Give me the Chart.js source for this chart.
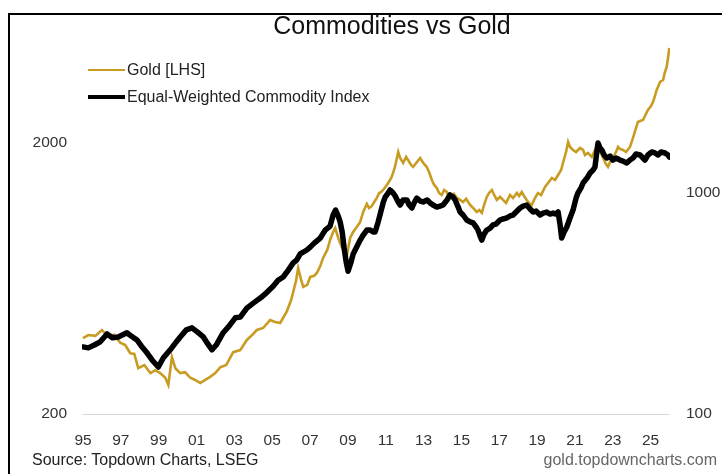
<!DOCTYPE html>
<html>
<head>
<meta charset="utf-8">
<title>Commodities vs Gold</title>
<script src="https://cdn.jsdelivr.net/npm/chart.js@4.4.1/dist/chart.umd.min.js"></script>
<style>
  html, body { margin:0; padding:0; background:#fff; overflow:hidden; }
  body { font-family:"Liberation Sans", Arial, sans-serif; }
  #wrap { position:relative; width:722px; height:474px; overflow:hidden; }
  #frame { position:absolute; left:8px; top:13px; width:800px; height:600px; border:2px solid #000; }
  #chart { position:absolute; left:0; top:0; }
  .txt { position:absolute; white-space:nowrap; }
  #title { left:192px; width:400px; top:10px; line-height:30px; font-size:25px; text-align:center; color:#111; }
  .swatch { position:absolute; left:88px; width:37px; }
  .leg { left:127px; font-size:16px; line-height:18px; color:#222; }
  .foot { font-size:16px; line-height:18px; top:451px; }
</style>
</head>
<body>
<div id="wrap">
  <div id="frame"></div>
  <canvas id="chart" width="722" height="474"></canvas>
  <div id="title" class="txt">Commodities vs Gold</div>
  <div class="swatch" style="top:69px;height:2px;background:#C89B22"></div>
  <div class="txt leg" style="top:61px">Gold [LHS]</div>
  <div class="swatch" style="top:95px;height:4px;background:#000"></div>
  <div class="txt leg" style="top:88px">Equal-Weighted Commodity Index</div>
  <div class="txt foot" style="left:32px;color:#222">Source: Topdown Charts, LSEG</div>
  <div class="txt foot" style="right:5px;color:#666">gold.topdowncharts.com</div>
</div>
<script>
// values (x in years, gold in USD/oz, index level)
const goldYears = [
  1995.00,1995.28,1995.65,1996.00,1996.28,1996.65,1996.97,1997.23,1997.50,1997.71,1997.92,
  1998.24,1998.56,1998.82,1999.08,1999.35,1999.51,1999.70,1999.88,2000.14,2000.40,2000.67,2000.93,
  2001.20,2001.46,2001.72,2001.99,2002.25,2002.57,2002.94,2003.31,2003.66,2003.94,2004.19,2004.52,
  2004.89,2005.16,2005.42,2005.78,2006.00,2006.11,2006.27,2006.37,2006.53,2006.64,2006.85,2007.01,
  2007.22,2007.36,2007.54,2007.69,2007.91,2008.06,2008.22,2008.33,2008.49,2008.59,2008.70,2008.86,
  2008.96,2009.12,2009.28,2009.47,2009.65,2009.81,2010.00,2010.12,2010.27,2010.39,2010.53,2010.65,
  2010.76,2010.86,2011.02,2011.13,2011.29,2011.39,2011.50,2011.66,2011.76,2011.92,2012.08,2012.18,
  2012.34,2012.45,2012.61,2012.82,2012.98,2013.17,2013.29,2013.44,2013.56,2013.70,2013.82,2013.96,
  2014.09,2014.23,2014.35,2014.49,2014.61,2014.76,2014.93,2015.09,2015.25,2015.46,2015.62,2015.81,
  2015.94,2016.08,2016.20,2016.34,2016.46,2016.61,2016.73,2016.87,2017.04,2017.20,2017.36,2017.57,
  2017.73,2017.93,2018.05,2018.19,2018.31,2018.45,2018.58,2018.72,2018.89,2019.05,2019.21,2019.42,
  2019.58,2019.78,2019.95,2020.11,2020.27,2020.37,2020.53,2020.64,2020.74,2020.90,2021.06,2021.27,
  2021.43,2021.53,2021.69,2021.89,2022.01,2022.15,2022.27,2022.42,2022.54,2022.64,2022.75,2022.86,
  2023.01,2023.17,2023.28,2023.38,2023.54,2023.70,2023.91,2024.07,2024.23,2024.33,2024.44,2024.60,
  2024.70,2024.86,2025.02,2025.13,2025.23,2025.32,2025.39,2025.50,2025.66,2025.76,2025.85,2025.92,
  2025.99
];
const goldPrice = [
  381,391,388,408,388,391,366,359,335,333,295,
  303,283,290,283,272,256,324,295,283,285,272,267,
  260,267,274,283,297,303,338,344,375,391,408,415,
  444,437,433,479,526,563,624,691,624,588,598,640,
  646,662,702,752,805,876,937,969,891,854,819,791,
  778,891,937,978,1021,1111,1189,1149,1169,1209,1251,1305,
  1316,1339,1385,1420,1482,1547,1642,1848,1757,1684,1772,1727,
  1656,1628,1684,1757,1684,1628,1560,1457,1397,1362,1305,1283,
  1339,1316,1251,1262,1294,1251,1230,1209,1241,1179,1149,1111,
  1130,1102,1179,1262,1305,1339,1283,1230,1262,1230,1199,1283,
  1251,1305,1272,1316,1272,1230,1199,1179,1251,1305,1283,1374,
  1420,1482,1457,1520,1587,1684,1848,2013,1929,1880,1848,1912,
  1880,1802,1833,1772,1848,1929,1880,1802,1727,1669,1628,1698,
  1757,1848,1929,1896,1880,1848,1929,2082,2266,2384,2404,2425,
  2509,2640,2731,2826,2973,3128,3209,3348,3405,3645,3803,4104,
  4468
];

const indexYears = [
  1995.00,1995.28,1995.60,1995.91,1996.27,1996.55,1996.86,1997.32,1997.55,1997.85,1998.08,
  1998.38,1998.66,1998.98,1999.24,1999.61,1999.88,2000.14,2000.46,2000.76,2001.04,2001.36,2001.57,
  2001.81,2002.04,2002.41,2002.73,2003.05,2003.31,2003.66,2004.00,2004.37,2004.68,2005.05,2005.32,
  2005.58,2005.85,2006.11,2006.30,2006.48,2006.83,2007.01,2007.22,2007.54,2007.80,2008.06,2008.22,
  2008.35,2008.49,2008.59,2008.70,2008.80,2008.91,2009.01,2009.17,2009.28,2009.49,2009.65,2009.81,
  2010.00,2010.18,2010.34,2010.44,2010.60,2010.71,2010.86,2010.97,2011.13,2011.23,2011.39,2011.50,
  2011.66,2011.76,2011.92,2012.12,2012.24,2012.38,2012.50,2012.64,2012.82,2012.98,2013.19,2013.35,
  2013.50,2013.70,2013.87,2014.03,2014.24,2014.40,2014.56,2014.67,2014.83,2014.93,2015.09,2015.28,
  2015.46,2015.62,2015.78,2015.88,2015.99,2016.08,2016.20,2016.34,2016.52,2016.67,2016.83,2017.04,
  2017.20,2017.40,2017.57,2017.73,2017.89,2018.10,2018.26,2018.45,2018.63,2018.79,2018.95,2019.16,
  2019.32,2019.51,2019.69,2019.85,2020.00,2020.11,2020.21,2020.30,2020.43,2020.57,2020.74,2020.90,
  2021.06,2021.16,2021.32,2021.43,2021.64,2021.80,2021.96,2022.06,2022.17,2022.22,2022.33,2022.42,
  2022.54,2022.68,2022.86,2023.01,2023.17,2023.38,2023.54,2023.74,2023.91,2024.07,2024.23,2024.44,
  2024.60,2024.70,2024.86,2025.06,2025.23,2025.39,2025.55,2025.76,2025.92,2025.99
];
const indexLevel = [
  201,199,205,212,230,221,223,233,225,216,203,
  189,175,163,179,195,209,223,240,245,235,223,209,
  195,205,233,250,272,274,301,317,334,352,378,403,
  416,447,482,497,529,551,568,592,624,678,707,793,
  835,784,738,664,563,487,442,487,529,574,611,644,
  678,678,664,664,738,801,899,956,997,1029,997,966,
  908,880,927,927,880,853,899,946,917,908,927,899,
  880,861,870,880,927,977,956,927,861,818,793,753,
  738,730,700,678,637,611,650,678,692,715,722,753,
  761,769,785,793,818,853,870,880,844,818,826,793,
  809,818,801,809,801,818,722,624,664,700,769,835,
  946,997,1051,1106,1165,1228,1267,1307,1560,1677,1593,1560,
  1481,1435,1465,1405,1435,1405,1390,1362,1405,1435,1496,1481,
  1435,1405,1481,1528,1512,1481,1528,1512,1481,1450
];

const xTickYears = [1995,1997,1999,2001,2003,2005,2007,2009,2011,2013,2015,2017,2019,2021,2023,2025];
const leftTicks = [200, 2000];
const rightTicks = [100, 1000];

const GOLD = '#C89B22';
const tickFont = { family: '"Liberation Sans", Arial, sans-serif', size: 15.5 };
const tickColor = '#333';

function toPoints(xs, ys){
  return xs.map((x, i) => ({ x: x, y: ys[i] }));
}

const ctx = document.getElementById('chart').getContext('2d');
new Chart(ctx, {
  type: 'line',
  data: {
    datasets: [
      {
        label: 'Gold [LHS]',
        data: toPoints(goldYears, goldPrice),
        yAxisID: 'yLeft',
        borderColor: GOLD,
        borderWidth: 2.6,
        pointRadius: 0,
        tension: 0,
        order: 2
      },
      {
        label: 'Equal-Weighted Commodity Index',
        data: toPoints(indexYears, indexLevel),
        yAxisID: 'yRight',
        borderColor: '#000',
        borderWidth: 5.5,
        borderJoinStyle: 'round',
        borderCapStyle: 'round',
        pointRadius: 0,
        tension: 0,
        order: 1
      }
    ]
  },
  options: {
    responsive: false,
    animation: false,
    layout: { padding: { top: 40, left: 0, right: 0, bottom: 0 } },
    plugins: { legend: { display: false }, tooltip: { enabled: false } },
    scales: {
      x: {
        type: 'linear',
        min: 1994.947,
        max: 2026.025,
        afterBuildTicks: s => { s.ticks = xTickYears.map(v => ({ value: v })); },
        afterFit: s => { s.height = 60; },
        ticks: {
          callback: v => String(v).slice(2),
          font: tickFont, color: tickColor, padding: 9,
          autoSkip: false, maxRotation: 0
        },
        grid: { display: false },
        border: { display: false }
      },
      yLeft: {
        type: 'logarithmic',
        position: 'left',
        min: 200,
        max: 4780,
        afterBuildTicks: s => { s.ticks = leftTicks.map(v => ({ value: v })); },
        afterFit: s => { s.width = 82; },
        ticks: { callback: v => String(v), font: tickFont, color: tickColor, padding: 15 },
        grid: {
          drawTicks: false,
          color: c => (c.tick && c.tick.value === 200) ? '#d9d9d9' : 'rgba(0,0,0,0)',
          lineWidth: 1
        },
        border: { display: false }
      },
      yRight: {
        type: 'logarithmic',
        position: 'right',
        min: 100,
        max: 4900,
        afterBuildTicks: s => { s.ticks = rightTicks.map(v => ({ value: v })); },
        afterFit: s => { s.width = 52; },
        ticks: { callback: v => String(v), font: tickFont, color: tickColor, padding: 16 },
        grid: { drawOnChartArea: false, drawTicks: false },
        border: { display: false }
      }
    }
  }
});
</script>
</body>
</html>
